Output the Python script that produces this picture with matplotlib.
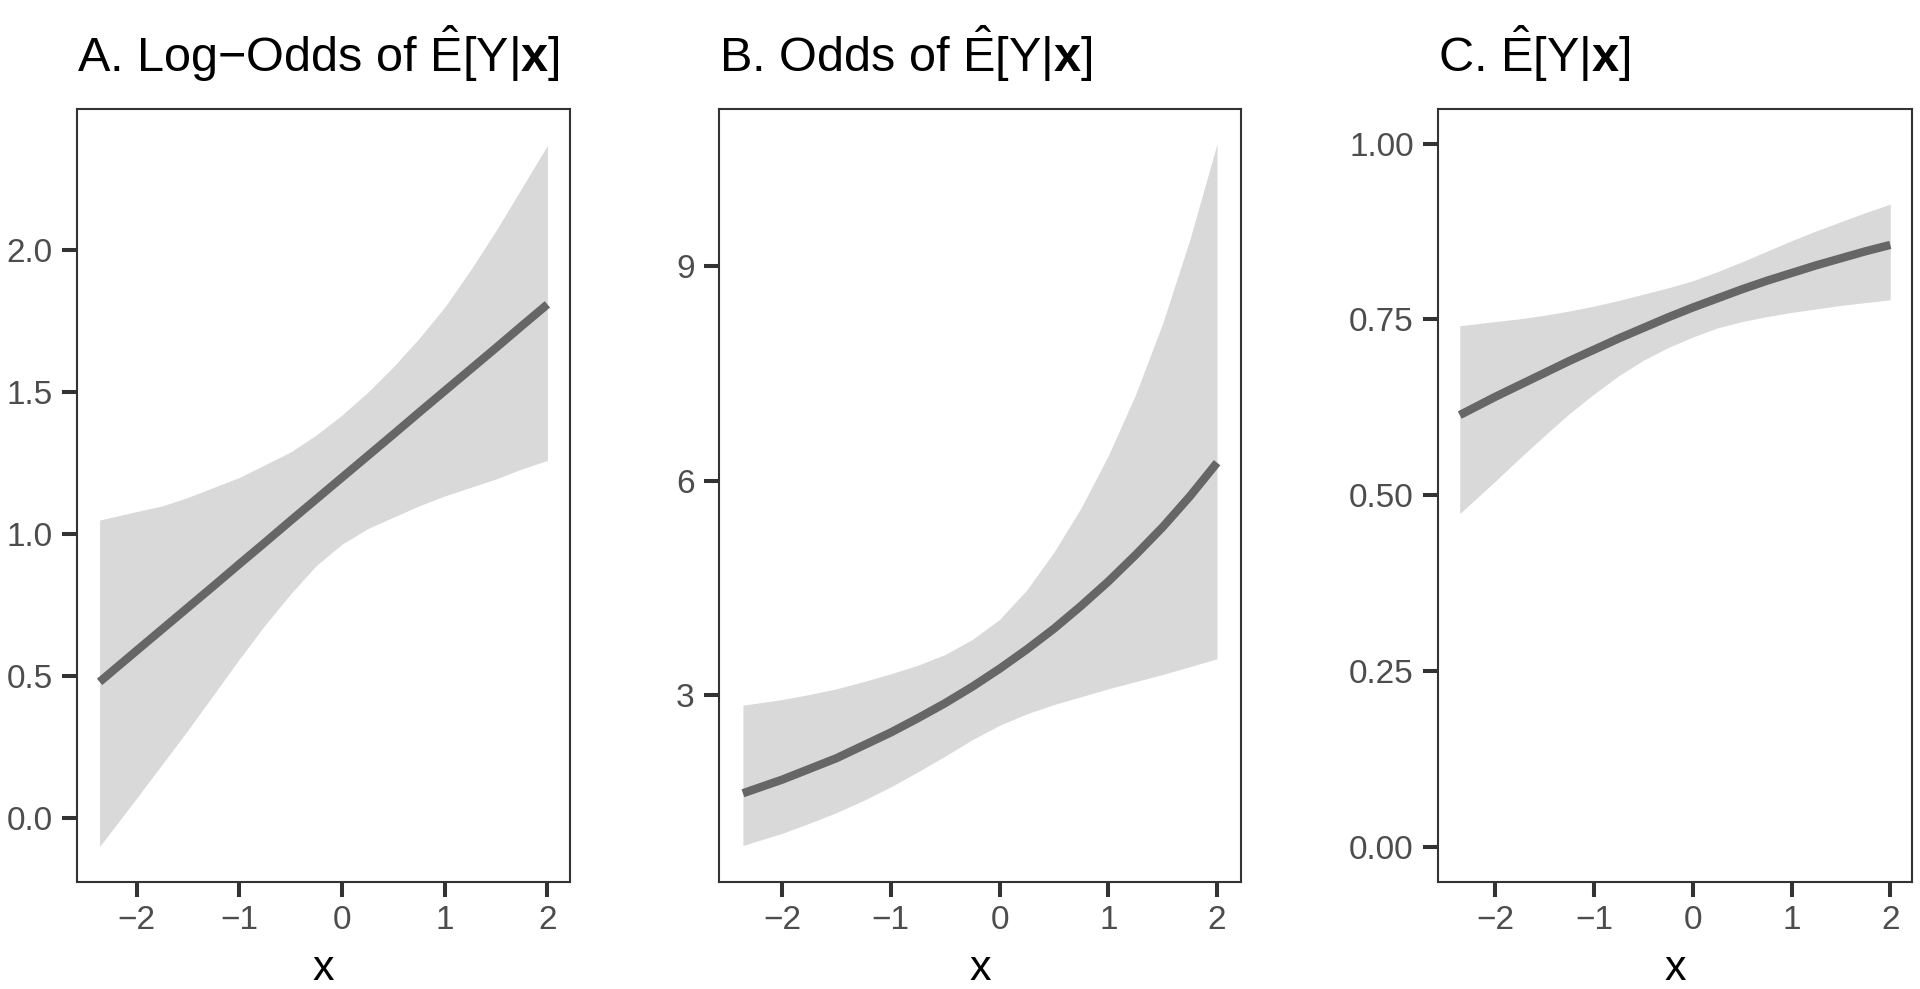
import matplotlib
matplotlib.use("Agg")
import matplotlib.pyplot as plt

plt.rcParams['font.family'] = ['Liberation Sans', 'DejaVu Sans']
plt.rcParams['mathtext.fontset'] = 'custom'
plt.rcParams['mathtext.rm'] = 'Liberation Sans'
plt.rcParams['mathtext.it'] = 'Liberation Sans:italic'
plt.rcParams['mathtext.bf'] = 'Liberation Sans:bold'

x_vals = [-2.36, -2.0, -1.75, -1.5, -1.25, -1.0, -0.75, -0.5, -0.25,
          0.0, 0.25, 0.5, 0.75, 1.0, 1.25, 1.5, 1.75, 2.0]

# A: log-odds
logodds_fit = [0.480, 0.590, 0.666, 0.742, 0.818, 0.895, 0.971, 1.048, 1.124,
               1.200, 1.276, 1.352, 1.429, 1.505, 1.581, 1.657, 1.734, 1.810]
logodds_hi = [1.05, 1.08, 1.10, 1.13, 1.165, 1.20, 1.245, 1.29, 1.35,
              1.42, 1.50, 1.59, 1.69, 1.80, 1.93, 2.07, 2.22, 2.37]
logodds_lo = [-0.10, 0.07, 0.19, 0.31, 0.435, 0.56, 0.68, 0.79, 0.89,
              0.965, 1.02, 1.06, 1.10, 1.135, 1.165, 1.195, 1.23, 1.26]

# B: odds
odds_fit = [1.63, 1.82, 1.97, 2.12, 2.30, 2.48, 2.68, 2.89, 3.12,
            3.37, 3.64, 3.93, 4.25, 4.59, 4.96, 5.35, 5.78, 6.25]
odds_hi = [2.86, 2.94, 3.01, 3.09, 3.19, 3.30, 3.42, 3.57, 3.78,
           4.06, 4.47, 5.00, 5.62, 6.35, 7.20, 8.20, 9.37, 10.71]
odds_lo = [0.90, 1.07, 1.21, 1.36, 1.53, 1.72, 1.93, 2.15, 2.38,
           2.58, 2.74, 2.87, 2.98, 3.09, 3.19, 3.29, 3.40, 3.51]

# C: probability
prob_fit = [0.614, 0.640, 0.657, 0.674, 0.691, 0.707, 0.723, 0.738, 0.753,
            0.767, 0.780, 0.793, 0.805, 0.816, 0.827, 0.837, 0.847, 0.856]
prob_hi = [0.741, 0.747, 0.751, 0.756, 0.762, 0.769, 0.777, 0.786, 0.795,
           0.805, 0.818, 0.832, 0.847, 0.862, 0.876, 0.889, 0.902, 0.914]
prob_lo = [0.474, 0.520, 0.553, 0.585, 0.616, 0.644, 0.670, 0.692, 0.710,
           0.725, 0.738, 0.747, 0.754, 0.760, 0.765, 0.770, 0.774, 0.778]

x_ticks = [-2, -1, 0, 1, 2]
x_ticklabels = ['\u22122', '\u22121', '0', '1', '2']

panels = [
    dict(title='A. Log\u2212Odds of $\\hat{\\mathrm{E}}[\\mathrm{Y}|\\mathbf{x}]$',
         fit=logodds_fit, lo=logodds_lo, hi=logodds_hi,
         yticks=[0.0, 0.5, 1.0, 1.5, 2.0], ylabels=['0.0', '0.5', '1.0', '1.5', '2.0'],
         ylim=(-0.225, 2.50), left=77, right=570),
    dict(title='B. Odds of $\\hat{\\mathrm{E}}[\\mathrm{Y}|\\mathbf{x}]$',
         fit=odds_fit, lo=odds_lo, hi=odds_hi,
         yticks=[3, 6, 9], ylabels=['3', '6', '9'],
         ylim=(0.39, 11.2), left=719, right=1241),
    dict(title='C. $\\hat{\\mathrm{E}}[\\mathrm{Y}|\\mathbf{x}]$',
         fit=prob_fit, lo=prob_lo, hi=prob_hi,
         yticks=[0.0, 0.25, 0.5, 0.75, 1.0], ylabels=['0.00', '0.25', '0.50', '0.75', '1.00'],
         ylim=(-0.05, 1.05), left=1438, right=1912),
]

W, H = 1920, 989
fig = plt.figure(figsize=(W / 100, H / 100), dpi=100)
top, bottom = 108.5, 882

for p in panels:
    ax = fig.add_axes([p['left'] / W, 1 - bottom / H,
                       (p['right'] - p['left']) / W, (bottom - top) / H])
    ax.fill_between(x_vals, p['lo'], p['hi'], color='#D9D9D9', linewidth=0)
    ax.plot(x_vals, p['fit'], color='#666666', linewidth=6, solid_capstyle='butt')
    ax.set_xlim(-2.58, 2.22)
    ax.set_ylim(*p['ylim'])
    ax.set_xticks(x_ticks)
    ax.set_xticklabels(x_ticklabels)
    ax.set_yticks(p['yticks'])
    ax.set_yticklabels(p['ylabels'])
    ax.tick_params(axis='both', direction='out', length=10.5, width=2.9,
                   color='#333333', labelcolor='#4D4D4D', labelsize=24)
    ax.tick_params(axis='x', pad=6)
    ax.tick_params(axis='y', pad=7)
    for s in ax.spines.values():
        s.set_color('#333333')
        s.set_linewidth(1.5)
    ax.set_xlabel('x', fontsize=31, color='black')
    ax.xaxis.label.set_va('baseline')
    ax.xaxis.set_label_coords(0.5, (bottom - 980) / (bottom - top))
    fig.text(p['left'] / W, 1 - 72 / H, p['title'], fontsize=35,
             color='black', ha='left', va='baseline')

fig.savefig('out.png', dpi=100)
